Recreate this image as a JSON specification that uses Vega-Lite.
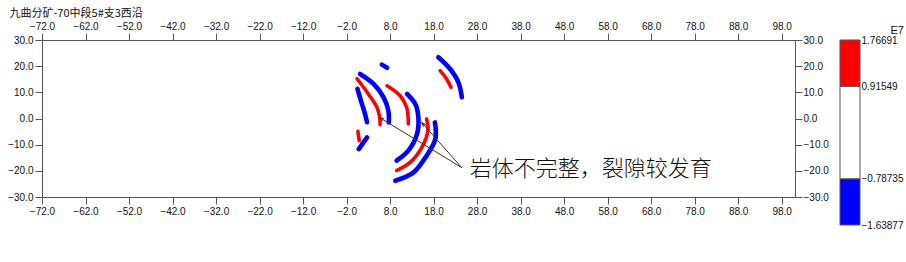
{
  "$schema": "https://vega.github.io/schema/vega-lite/v6.json",
  "padding": {"left": 7, "top": 6, "right": 4, "bottom": 10},
  "background": "white",
  "bounds": "flush",
  "spacing": 45,
  "config": {
    "axis": {
      "labelFont": "Liberation Sans",
      "labelFontSize": 10,
      "labelColor": "#111111",
      "tickColor": "#555555",
      "domainColor": "#555555",
      "grid": false,
      "labelFlush": false,
      "labelOverlap": false
    }
  },
  "datasets": {
    "arcs": [
      {"arc": "T", "s": "neg", "i": 0, "x": 6.1, "y": 20.6},
      {"arc": "T", "s": "neg", "i": 1, "x": 7.3, "y": 19.4},
      {"arc": "A1", "s": "neg", "i": 0, "x": 0.5, "y": 11.3},
      {"arc": "A1", "s": "neg", "i": 1, "x": 1.0, "y": 8.5},
      {"arc": "A1", "s": "neg", "i": 2, "x": 1.5, "y": 5.7},
      {"arc": "A1", "s": "neg", "i": 3, "x": 2.2, "y": 2.0},
      {"arc": "A1", "s": "neg", "i": 4, "x": 2.7, "y": -1.4},
      {"arc": "A2", "s": "pos", "i": 0, "x": 0.4, "y": 15.2},
      {"arc": "A2", "s": "pos", "i": 1, "x": 3.0, "y": 9.4},
      {"arc": "A2", "s": "pos", "i": 2, "x": 5.0, "y": 4.2},
      {"arc": "A2", "s": "pos", "i": 3, "x": 5.6, "y": 0.5},
      {"arc": "A2", "s": "pos", "i": 4, "x": 5.7, "y": -2.4},
      {"arc": "A3", "s": "neg", "i": 0, "x": 1.1, "y": 17.0},
      {"arc": "A3", "s": "neg", "i": 1, "x": 4.2, "y": 13.2},
      {"arc": "A3", "s": "neg", "i": 2, "x": 6.5, "y": 8.1},
      {"arc": "A3", "s": "neg", "i": 3, "x": 7.6, "y": 3.0},
      {"arc": "A3", "s": "neg", "i": 4, "x": 7.7, "y": -1.5},
      {"arc": "A4", "s": "pos", "i": 0, "x": 7.3, "y": 12.5},
      {"arc": "A4", "s": "pos", "i": 1, "x": 10.3, "y": 8.7},
      {"arc": "A4", "s": "pos", "i": 2, "x": 11.8, "y": 4.3},
      {"arc": "A4", "s": "pos", "i": 3, "x": 12.2, "y": -2.1},
      {"arc": "B1", "s": "neg", "i": 0, "x": 11.9, "y": 9.4},
      {"arc": "B1", "s": "neg", "i": 1, "x": 13.8, "y": 5.5},
      {"arc": "B1", "s": "neg", "i": 2, "x": 14.5, "y": 0.4},
      {"arc": "B1", "s": "neg", "i": 3, "x": 14.2, "y": -5.9},
      {"arc": "B1", "s": "neg", "i": 4, "x": 12.2, "y": -12.3},
      {"arc": "B1", "s": "neg", "i": 5, "x": 9.5, "y": -16.1},
      {"arc": "B2", "s": "pos", "i": 0, "x": 16.4, "y": -0.2},
      {"arc": "B2", "s": "pos", "i": 1, "x": 16.7, "y": -4.7},
      {"arc": "B2", "s": "pos", "i": 2, "x": 15.3, "y": -11.0},
      {"arc": "B2", "s": "pos", "i": 3, "x": 12.6, "y": -16.8},
      {"arc": "B2", "s": "pos", "i": 4, "x": 9.5, "y": -19.9},
      {"arc": "B3", "s": "neg", "i": 0, "x": 18.3, "y": -1.5},
      {"arc": "B3", "s": "neg", "i": 1, "x": 18.4, "y": -7.8},
      {"arc": "B3", "s": "neg", "i": 2, "x": 16.4, "y": -14.2},
      {"arc": "B3", "s": "neg", "i": 3, "x": 13.4, "y": -20.6},
      {"arc": "B3", "s": "neg", "i": 4, "x": 9.2, "y": -23.8},
      {"arc": "C1", "s": "neg", "i": 0, "x": 19.1, "y": 23.4},
      {"arc": "C1", "s": "neg", "i": 1, "x": 21.8, "y": 18.9},
      {"arc": "C1", "s": "neg", "i": 2, "x": 23.7, "y": 13.8},
      {"arc": "C1", "s": "neg", "i": 3, "x": 24.5, "y": 8.1},
      {"arc": "C2", "s": "pos", "i": 0, "x": 19.5, "y": 18.3},
      {"arc": "C2", "s": "pos", "i": 1, "x": 21.0, "y": 15.1},
      {"arc": "C2", "s": "pos", "i": 2, "x": 22.0, "y": 11.9},
      {"arc": "D1", "s": "pos", "i": 0, "x": 0.6, "y": -4.9},
      {"arc": "D1", "s": "pos", "i": 1, "x": 0.9, "y": -8.5},
      {"arc": "D2", "s": "neg", "i": 0, "x": 0.8, "y": -11.7},
      {"arc": "D2", "s": "neg", "i": 1, "x": 2.7, "y": -7.2}
    ],
    "arrows": [
      {"id": 1, "x": 24.5, "y": -18.8, "x2": 5.65, "y2": 0.3},
      {"id": 2, "x": 24.5, "y": -18.8, "x2": 15.3, "y2": -1.6}
    ],
    "notes": [
      {"label": "岩体不完整，裂隙较发育", "x": 26.3, "y": -19.2}
    ],
    "legend": [
      {"c": "neg", "lo": -1.63877, "hi": -0.78735},
      {"c": "mid", "lo": -0.78735, "hi": 0.91549},
      {"c": "pos", "lo": 0.91549, "hi": 1.76691}
    ]
  },
  "hconcat": [
    {
      "width": 753,
      "height": 157,
      "view": {"stroke": "#555555", "strokeWidth": 1},
      "resolve": {"axis": {"x": "independent", "y": "independent"}},
      "layer": [
        {
          "data": {"name": "arcs"},
          "mark": {"type": "line", "strokeCap": "round", "interpolate": "catmull-rom"},
          "encoding": {
            "x": {
              "field": "x", "type": "quantitative",
              "scale": {"domain": [-72, 101.06], "nice": false, "zero": false},
              "axis": {"orient": "bottom", "values": [-72,-62,-52,-42,-32,-22,-12,-2,8,18,28,38,48,58,68,78,88,98], "format": ".1f", "title": null, "tickSize": 7, "labelPadding": 2, "domain": false}
            },
            "y": {
              "field": "y", "type": "quantitative",
              "scale": {"domain": [-30, 30], "nice": false, "zero": false},
              "axis": {"orient": "left", "values": [-30,-20,-10,0,10,20,30], "format": ".1f", "title": null, "tickSize": 7, "labelPadding": 2, "domain": false}
            },
            "detail": {"field": "arc"},
            "order": {"field": "i"},
            "color": {"field": "s", "type": "nominal", "scale": {"domain": ["pos", "neg"], "range": ["#ff0000", "#0000ff"]}, "legend": null},
            "strokeWidth": {"field": "s", "type": "nominal", "scale": {"domain": ["pos", "neg"], "range": [3.6, 4.6]}, "legend": null}
          }
        },
        {
          "data": {"name": "arrows"},
          "mark": {"type": "rule", "color": "#333333", "strokeWidth": 1},
          "encoding": {
            "x": {
              "field": "x", "type": "quantitative",
              "axis": {
                "orient": "top", "values": [-72,-62,-52,-42,-32,-22,-12,-2,8,18,28,38,48,58,68,78,88,98], "format": ".1f", "tickSize": 7, "labelPadding": 2, "domain": false,
                "title": "九曲分矿-70中段5#支3西沿", "titleX": -33, "titleY": -33, "titleAlign": "left", "titleBaseline": "top", "titleAngle": 0,
                "titleFont": "Noto Sans CJK SC", "titleFontSize": 11, "titleFontWeight": "normal", "titleColor": "#111111"
              }
            },
            "y": {
              "field": "y", "type": "quantitative",
              "axis": {"orient": "right", "values": [-30,-20,-10,0,10,20,30], "format": ".1f", "title": null, "tickSize": 7, "labelPadding": 1, "domain": false}
            },
            "x2": {"field": "x2"},
            "y2": {"field": "y2"}
          }
        },
        {
          "data": {"name": "arrows"},
          "transform": [{"filter": "datum.id == 1"}],
          "mark": {"type": "point", "shape": "M-0.7,1.9L0,0L0.7,1.9", "filled": false, "stroke": "#333333", "strokeWidth": 1, "size": 20, "angle": 301, "opacity": 1},
          "encoding": {
            "x": {"field": "x2", "type": "quantitative", "axis": null},
            "y": {"field": "y2", "type": "quantitative", "axis": null}
          }
        },
        {
          "data": {"name": "arrows"},
          "transform": [{"filter": "datum.id == 2"}],
          "mark": {"type": "point", "shape": "M-0.7,1.9L0,0L0.7,1.9", "filled": false, "stroke": "#333333", "strokeWidth": 1, "size": 20, "angle": 318, "opacity": 1},
          "encoding": {
            "x": {"field": "x2", "type": "quantitative", "axis": null},
            "y": {"field": "y2", "type": "quantitative", "axis": null}
          }
        },
        {
          "data": {"name": "notes"},
          "mark": {"type": "text", "align": "left", "baseline": "middle", "font": "Noto Sans CJK SC", "fontSize": 22, "fontWeight": 300, "color": "#111111"},
          "encoding": {
            "x": {"field": "x", "type": "quantitative", "axis": null},
            "y": {"field": "y", "type": "quantitative", "axis": null},
            "text": {"field": "label"}
          }
        }
      ]
    },
    {
      "width": 20,
      "height": 185,
      "view": {"stroke": null},
      "data": {"name": "legend"},
      "mark": {"type": "rect", "stroke": "#555555", "strokeWidth": 1},
      "encoding": {
        "y": {
          "field": "lo", "type": "quantitative",
          "scale": {"domain": [-1.63877, 1.76691], "nice": false, "zero": false},
          "axis": {
            "orient": "right", "values": [-1.63877, -0.78735, 0.91549, 1.76691], "format": ".5f",
            "ticks": false, "domain": false, "labelPadding": 1,
            "title": "E7", "titleAngle": 0, "titleX": 30, "titleY": -10, "titleAlign": "left", "titleBaseline": "middle",
            "titleFont": "Liberation Sans", "titleFontSize": 11, "titleFontWeight": "normal", "titleColor": "#111111"
          }
        },
        "y2": {"field": "hi"},
        "fill": {"field": "c", "type": "nominal", "scale": {"domain": ["neg", "mid", "pos"], "range": ["#0000ff", "#ffffff", "#ff0000"]}, "legend": null}
      }
    }
  ]
}
